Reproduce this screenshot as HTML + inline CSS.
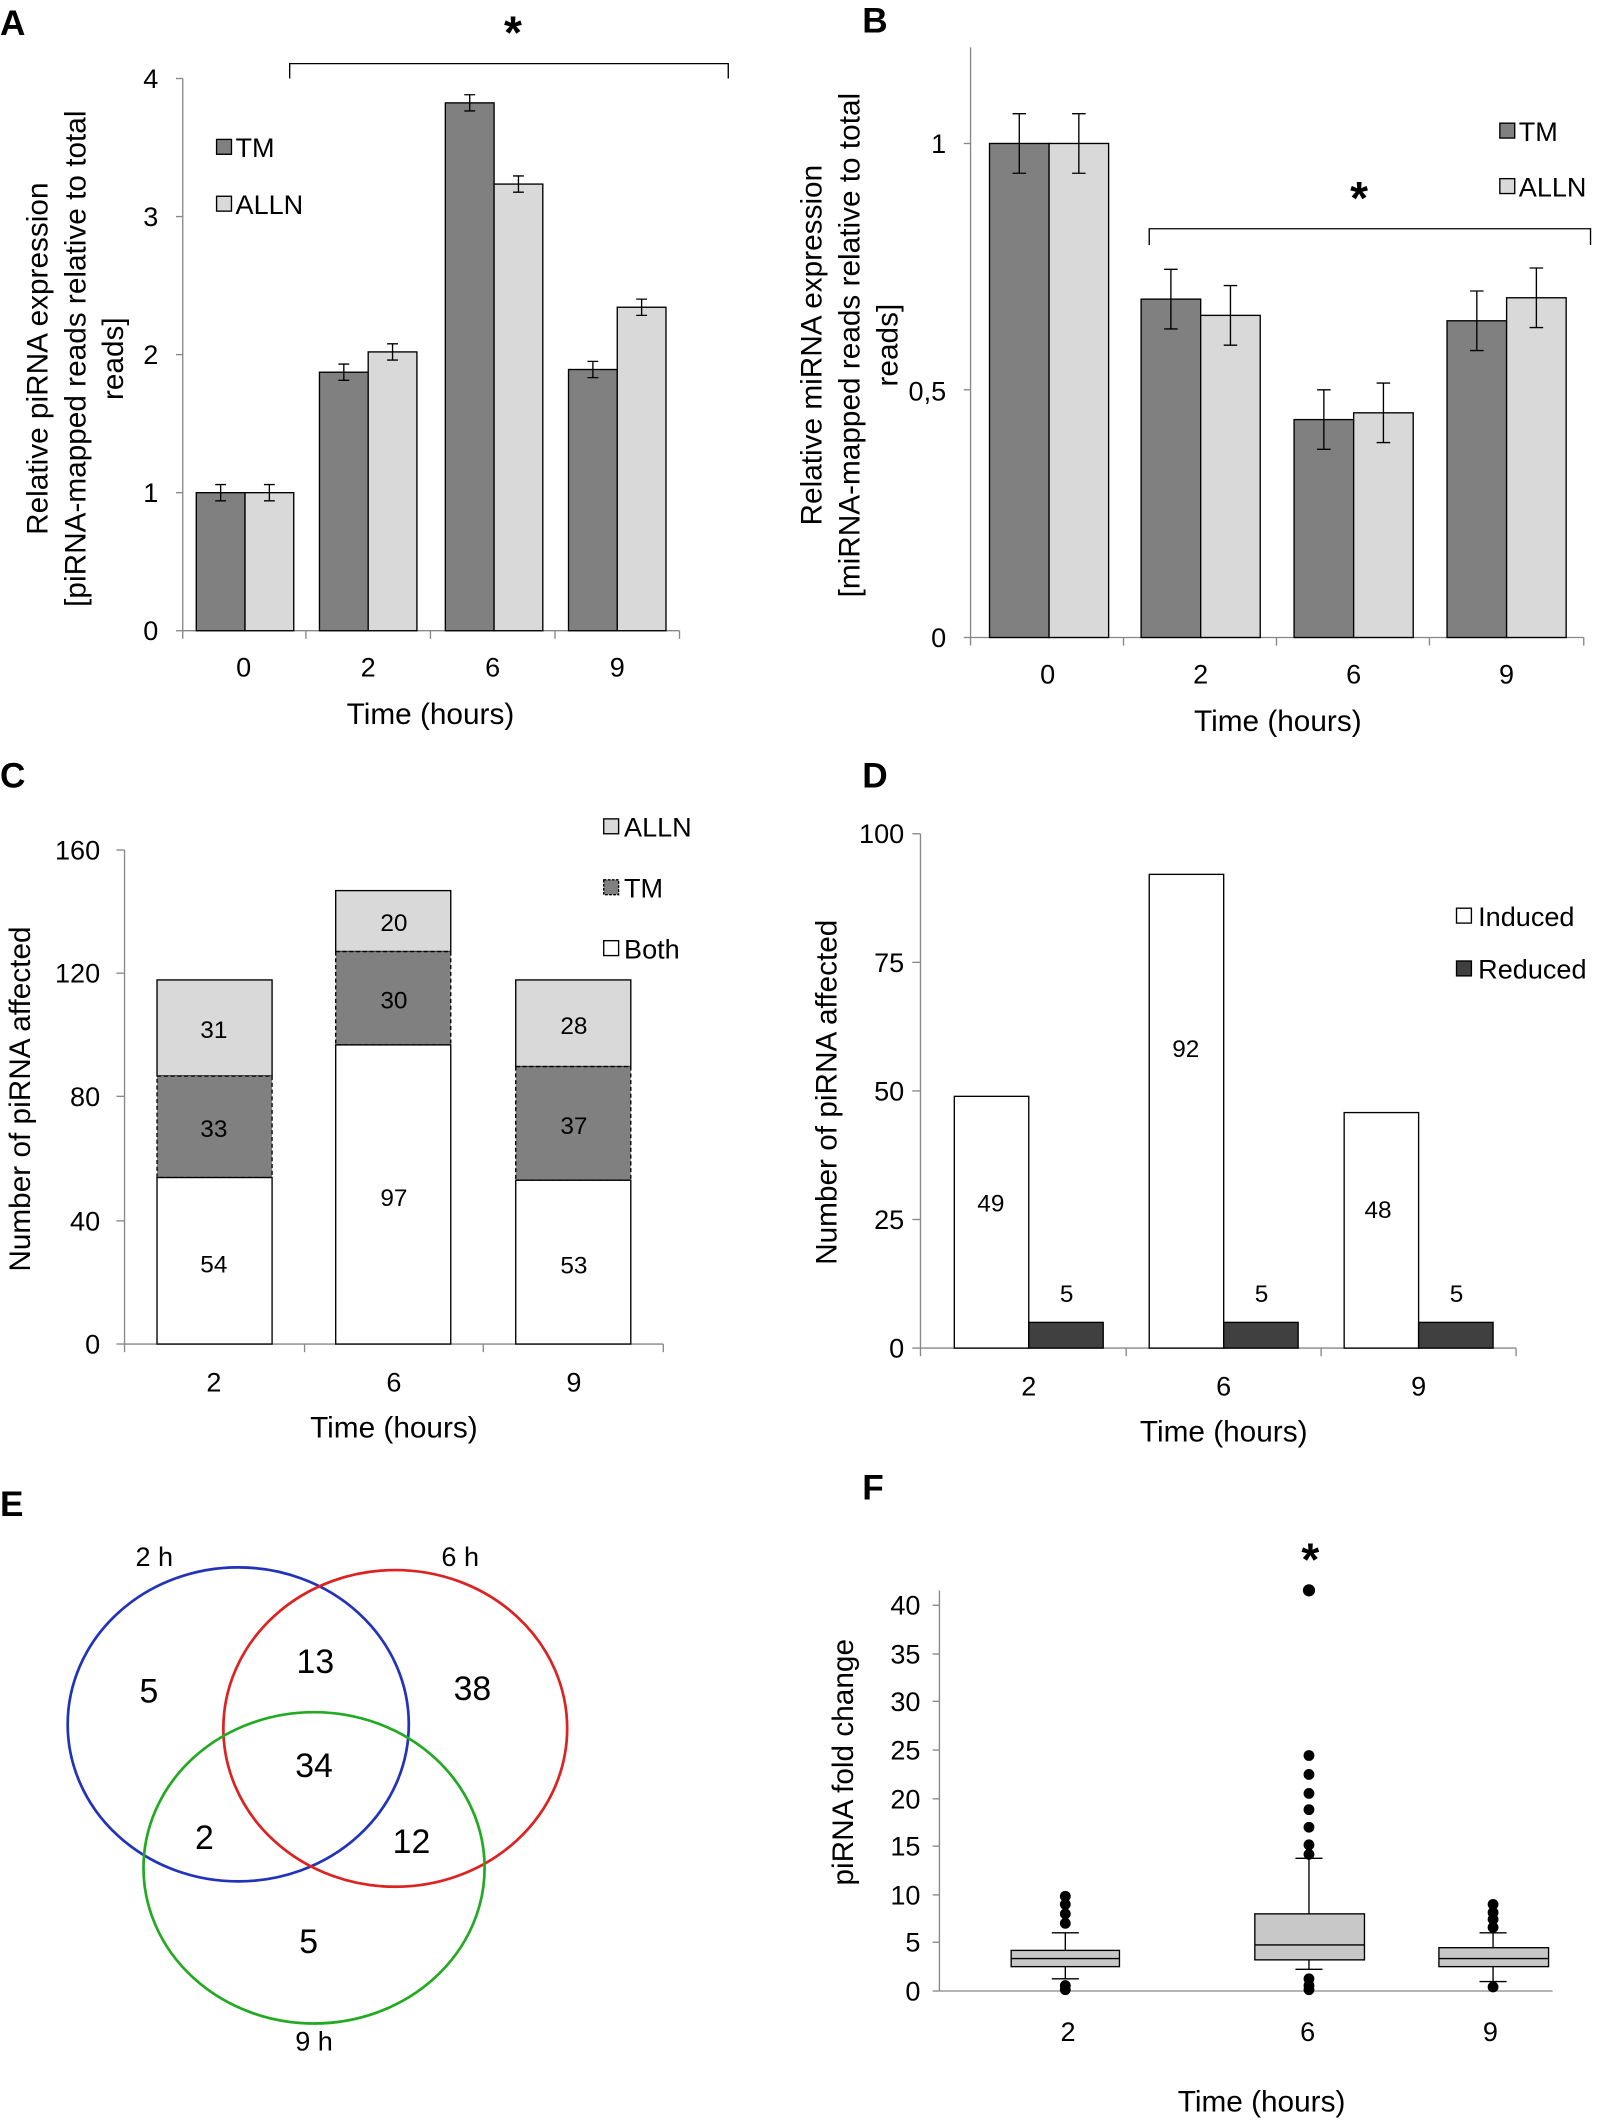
<!DOCTYPE html>
<html><head><meta charset="utf-8"><style>
html,body{margin:0;padding:0;background:#fff}
svg{display:block}
text{font-family:"Liberation Sans",sans-serif;fill:#000}
</style></head><body>
<svg width="1600" height="2125" viewBox="0 0 1182 1570" preserveAspectRatio="none" xmlns="http://www.w3.org/2000/svg">
<g font-size="20" stroke-width="1">
<!-- Panel A -->
<text x="0" y="26" font-size="26" font-weight="bold">A</text>
<line x1="135" y1="58" x2="135" y2="466" stroke="#888"/>
<line x1="135" y1="466" x2="502" y2="466" stroke="#888"/>
<g stroke="#888"><line x1="130" y1="466" x2="135" y2="466"/><line x1="130" y1="364" x2="135" y2="364"/><line x1="130" y1="262" x2="135" y2="262"/><line x1="130" y1="160" x2="135" y2="160"/><line x1="130" y1="58" x2="135" y2="58"/>
<line x1="135" y1="466" x2="135" y2="472"/><line x1="226" y1="466" x2="226" y2="472"/><line x1="318" y1="466" x2="318" y2="472"/><line x1="410" y1="466" x2="410" y2="472"/><line x1="502" y1="466" x2="502" y2="472"/></g>
<g text-anchor="end"><text x="117" y="473">0</text><text x="117" y="371">1</text><text x="117" y="269">2</text><text x="117" y="167">3</text><text x="117" y="65">4</text></g>
<g stroke="#000">
<rect x="145" y="364" width="36" height="102" fill="#808080"/><rect x="181" y="364" width="36" height="102" fill="#d9d9d9"/>
<rect x="236" y="275" width="36" height="191" fill="#808080"/><rect x="272" y="260" width="36" height="206" fill="#d9d9d9"/>
<rect x="329" y="76" width="36" height="390" fill="#808080"/><rect x="365" y="136" width="36" height="330" fill="#d9d9d9"/>
<rect x="420" y="273" width="36" height="193" fill="#808080"/><rect x="456" y="227" width="36" height="239" fill="#d9d9d9"/>
<path d="M163 358V370M159 358H167M159 370H167 M199 358V370M195 358H203M195 370H203 M254 269V281M250 269H258M250 281H258 M290 254V266M286 254H294M286 266H294 M347 70V82M343 70H351M343 82H351 M383 130V142M379 130H387M379 142H387 M438 267V279M434 267H442M434 279H442 M474 221V233M470 221H478M470 233H478" fill="none"/>
<path d="M214 58V47H538V58" fill="none"/>
<rect x="160" y="103" width="11" height="11" fill="#808080"/><rect x="160" y="145" width="11" height="11" fill="#d9d9d9"/>
</g>
<text x="379" y="36" font-size="34" font-weight="bold" text-anchor="middle">*</text>
<text x="174" y="116">TM</text><text x="174" y="158">ALLN</text>
<g text-anchor="middle"><text x="180" y="500">0</text><text x="272" y="500">2</text><text x="364" y="500">6</text><text x="456" y="500">9</text>
<text x="318" y="535" font-size="22">Time (hours)</text>
<g transform="translate(35,265) rotate(-90)" font-size="22"><text x="0" y="0">Relative piRNA expression</text><text x="0" y="28">[piRNA-mapped  reads relative to total</text><text x="0" y="56">reads]</text></g></g>
<!-- Panel B -->
<text x="637" y="24" font-size="26" font-weight="bold">B</text>
<line x1="717" y1="35" x2="717" y2="471" stroke="#888"/>
<line x1="717" y1="471" x2="1170" y2="471" stroke="#888"/>
<g stroke="#888"><line x1="712" y1="471" x2="717" y2="471"/><line x1="712" y1="288" x2="717" y2="288"/><line x1="712" y1="106" x2="717" y2="106"/>
<line x1="717" y1="471" x2="717" y2="477"/><line x1="830" y1="471" x2="830" y2="477"/><line x1="943" y1="471" x2="943" y2="477"/><line x1="1056" y1="471" x2="1056" y2="477"/><line x1="1170" y1="471" x2="1170" y2="477"/></g>
<g text-anchor="end"><text x="699" y="478">0</text><text x="699" y="296">0,5</text><text x="699" y="113">1</text></g>
<g stroke="#000">
<rect x="731" y="106" width="44" height="365" fill="#808080"/><rect x="775" y="106" width="44" height="365" fill="#d9d9d9"/>
<rect x="843" y="221" width="44" height="250" fill="#808080"/><rect x="887" y="233" width="44" height="238" fill="#d9d9d9"/>
<rect x="956" y="310" width="44" height="161" fill="#808080"/><rect x="1000" y="305" width="44" height="166" fill="#d9d9d9"/>
<rect x="1069" y="237" width="44" height="234" fill="#808080"/><rect x="1113" y="220" width="44" height="251" fill="#d9d9d9"/>
<path d="M753 84V128M748 84H758M748 128H758 M797 84V128M792 84H802M792 128H802 M865 199V243M860 199H870M860 243H870 M909 211V255M904 211H914M904 255H914 M978 288V332M973 288H983M973 332H983 M1022 283V327M1017 283H1027M1017 327H1027 M1091 215V259M1086 215H1096M1086 259H1096 M1135 198V242M1130 198H1140M1130 242H1140" fill="none"/>
<path d="M849 181V169H1175V181" fill="none"/>
<rect x="1108" y="91" width="11" height="11" fill="#808080"/><rect x="1108" y="132" width="11" height="11" fill="#d9d9d9"/>
</g>
<text x="1004" y="158" font-size="34" font-weight="bold" text-anchor="middle">*</text>
<text x="1122" y="104">TM</text><text x="1122" y="145">ALLN</text>
<g text-anchor="middle"><text x="774" y="505">0</text><text x="887" y="505">2</text><text x="1000" y="505">6</text><text x="1113" y="505">9</text>
<text x="944" y="540" font-size="22">Time (hours)</text>
<g transform="translate(607,255) rotate(-90)" font-size="22"><text x="0" y="0">Relative miRNA expression</text><text x="0" y="28">[miRNA-mapped reads relative to total</text><text x="0" y="56">reads]</text></g></g>
<!-- Panel C -->
<text x="0" y="582" font-size="26" font-weight="bold">C</text>
<line x1="92" y1="628" x2="92" y2="993" stroke="#888"/>
<line x1="92" y1="993" x2="490" y2="993" stroke="#888"/>
<g stroke="#888"><line x1="86" y1="993" x2="92" y2="993"/><line x1="86" y1="902" x2="92" y2="902"/><line x1="86" y1="810" x2="92" y2="810"/><line x1="86" y1="719" x2="92" y2="719"/><line x1="86" y1="628" x2="92" y2="628"/>
<line x1="92" y1="993" x2="92" y2="999"/><line x1="225" y1="993" x2="225" y2="999"/><line x1="357" y1="993" x2="357" y2="999"/><line x1="490" y1="993" x2="490" y2="999"/></g>
<g text-anchor="end"><text x="74" y="1000">0</text><text x="74" y="909">40</text><text x="74" y="817">80</text><text x="74" y="726">120</text><text x="74" y="635">160</text></g>
<g stroke="#000">
<rect x="116" y="724" width="85" height="71" fill="#d9d9d9"/><rect x="116" y="795" width="85" height="75" fill="#808080" stroke-dasharray="3,2"/><rect x="116" y="870" width="85" height="123" fill="#fff"/>
<rect x="248" y="658" width="85" height="45" fill="#d9d9d9"/><rect x="248" y="703" width="85" height="69" fill="#808080" stroke-dasharray="3,2"/><rect x="248" y="772" width="85" height="221" fill="#fff"/>
<rect x="381" y="724" width="85" height="64" fill="#d9d9d9"/><rect x="381" y="788" width="85" height="84" fill="#808080" stroke-dasharray="3,2"/><rect x="381" y="872" width="85" height="121" fill="#fff"/>
<rect x="446" y="605" width="11" height="11" fill="#d9d9d9"/><rect x="446" y="650" width="11" height="11" fill="#808080" stroke-dasharray="2,1"/><rect x="446" y="695" width="11" height="11" fill="#fff"/>
</g>
<text x="461" y="618">ALLN</text><text x="461" y="663">TM</text><text x="461" y="708">Both</text>
<g text-anchor="middle" font-size="18"><text x="158" y="767">31</text><text x="158" y="840">33</text><text x="158" y="940">54</text>
<text x="291" y="688">20</text><text x="291" y="745">30</text><text x="291" y="891">97</text>
<text x="424" y="764">28</text><text x="424" y="838">37</text><text x="424" y="941">53</text></g>
<g text-anchor="middle"><text x="158" y="1028">2</text><text x="291" y="1028">6</text><text x="424" y="1028">9</text>
<text x="291" y="1062" font-size="22">Time (hours)</text>
<text transform="translate(22,812) rotate(-90)" font-size="22">Number of piRNA affected</text></g>
<!-- Panel D -->
<text x="637" y="582" font-size="26" font-weight="bold">D</text>
<line x1="680" y1="616" x2="680" y2="996" stroke="#888"/>
<line x1="680" y1="996" x2="1120" y2="996" stroke="#888"/>
<g stroke="#888"><line x1="674" y1="996" x2="680" y2="996"/><line x1="674" y1="901" x2="680" y2="901"/><line x1="674" y1="806" x2="680" y2="806"/><line x1="674" y1="711" x2="680" y2="711"/><line x1="674" y1="616" x2="680" y2="616"/>
<line x1="680" y1="996" x2="680" y2="1002"/><line x1="832" y1="996" x2="832" y2="1002"/><line x1="976" y1="996" x2="976" y2="1002"/><line x1="1120" y1="996" x2="1120" y2="1002"/></g>
<g text-anchor="end"><text x="668" y="1003">0</text><text x="668" y="908">25</text><text x="668" y="813">50</text><text x="668" y="718">75</text><text x="668" y="623">100</text></g>
<g stroke="#000">
<rect x="705" y="810" width="55" height="186" fill="#fff"/><rect x="760" y="977" width="55" height="19" fill="#404040"/>
<rect x="849" y="646" width="55" height="350" fill="#fff"/><rect x="904" y="977" width="55" height="19" fill="#404040"/>
<rect x="993" y="822" width="55" height="174" fill="#fff"/><rect x="1048" y="977" width="55" height="19" fill="#404040"/>
<rect x="1076" y="671" width="11" height="11" fill="#fff"/><rect x="1076" y="710" width="11" height="11" fill="#404040"/>
</g>
<text x="1092" y="684">Induced</text><text x="1092" y="723">Reduced</text>
<g text-anchor="middle" font-size="18"><text x="732" y="895">49</text><text x="788" y="962">5</text><text x="876" y="781">92</text><text x="932" y="962">5</text><text x="1018" y="900">48</text><text x="1076" y="962">5</text></g>
<g text-anchor="middle"><text x="760" y="1031">2</text><text x="904" y="1031">6</text><text x="1048" y="1031">9</text>
<text x="904" y="1065" font-size="22">Time (hours)</text>
<text transform="translate(618,807) rotate(-90)" font-size="22">Number of piRNA affected</text></g>
<!-- Panel E -->
<text x="0" y="1120" font-size="26" font-weight="bold">E</text>
<ellipse cx="176" cy="1274" rx="126" ry="116" fill="none" stroke="#2233bb" stroke-width="2"/>
<ellipse cx="292" cy="1277" rx="127" ry="117" fill="none" stroke="#dd2222" stroke-width="2"/>
<ellipse cx="232" cy="1380" rx="126" ry="115" fill="none" stroke="#22aa22" stroke-width="2"/>
<g text-anchor="middle" font-size="25"><text x="110" y="1258">5</text><text x="233" y="1236">13</text><text x="349" y="1256">38</text><text x="232" y="1313">34</text><text x="151" y="1366">2</text><text x="304" y="1369">12</text><text x="228" y="1443">5</text></g>
<g text-anchor="middle"><text x="114" y="1157">2 h</text><text x="340" y="1157">6 h</text><text x="232" y="1515">9 h</text></g>
<!-- Panel F -->
<text x="637" y="1108" font-size="26" font-weight="bold">F</text>
<line x1="694" y1="1175" x2="694" y2="1471" stroke="#888"/>
<line x1="694" y1="1471" x2="1147" y2="1471" stroke="#888"/>
<g stroke="#888"><line x1="689" y1="1471" x2="694" y2="1471"/><line x1="689" y1="1435" x2="694" y2="1435"/><line x1="689" y1="1400" x2="694" y2="1400"/><line x1="689" y1="1364" x2="694" y2="1364"/><line x1="689" y1="1329" x2="694" y2="1329"/><line x1="689" y1="1293" x2="694" y2="1293"/><line x1="689" y1="1257" x2="694" y2="1257"/><line x1="689" y1="1222" x2="694" y2="1222"/><line x1="689" y1="1186" x2="694" y2="1186"/></g>
<g text-anchor="end"><text x="680" y="1478">0</text><text x="680" y="1442">5</text><text x="680" y="1407">10</text><text x="680" y="1371">15</text><text x="680" y="1336">20</text><text x="680" y="1300">25</text><text x="680" y="1264">30</text><text x="680" y="1229">35</text><text x="680" y="1193">40</text></g>
<g stroke="#000">
<path d="M787 1462V1453M787 1441V1428M777 1462H797M777 1428H797 M967 1455V1448M967 1414V1373M957 1455H977M957 1373H977 M1103 1464V1453M1103 1439V1428M1093 1464H1113M1093 1428H1113" fill="none"/>
<rect x="747" y="1441" width="80" height="12" fill="#c8c8c8"/><line x1="747" y1="1447" x2="827" y2="1447"/>
<rect x="927" y="1414" width="81" height="34" fill="#c8c8c8"/><line x1="927" y1="1437" x2="1008" y2="1437"/>
<rect x="1063" y="1439" width="81" height="14" fill="#c8c8c8"/><line x1="1063" y1="1447" x2="1144" y2="1447"/>
</g>
<g fill="#000">
<circle cx="787" cy="1467" r="4"/><circle cx="787" cy="1470" r="4"/><circle cx="787" cy="1421" r="4"/><circle cx="787" cy="1414" r="4"/><circle cx="787" cy="1407" r="4"/><circle cx="787" cy="1401" r="4"/>
<circle cx="967" cy="1175" r="4.5"/><circle cx="967" cy="1297" r="4"/><circle cx="967" cy="1311" r="4"/><circle cx="967" cy="1325" r="4"/><circle cx="967" cy="1337" r="4"/><circle cx="967" cy="1350" r="4"/><circle cx="967" cy="1363" r="4"/><circle cx="967" cy="1370" r="4"/><circle cx="967" cy="1462" r="4"/><circle cx="967" cy="1467" r="4"/><circle cx="967" cy="1470" r="4"/>
<circle cx="1103" cy="1468" r="4"/><circle cx="1103" cy="1424" r="4"/><circle cx="1103" cy="1418" r="4"/><circle cx="1103" cy="1413" r="4"/><circle cx="1103" cy="1407" r="4"/>
</g>
<text x="968" y="1164" font-size="34" font-weight="bold" text-anchor="middle">*</text>
<g text-anchor="middle"><text x="789" y="1508">2</text><text x="966" y="1508">6</text><text x="1101" y="1508">9</text>
<text x="932" y="1560" font-size="22">Time (hours)</text>
<text transform="translate(630,1302) rotate(-90)" font-size="22">piRNA fold change</text></g>
</g>
</svg>
</body></html>
